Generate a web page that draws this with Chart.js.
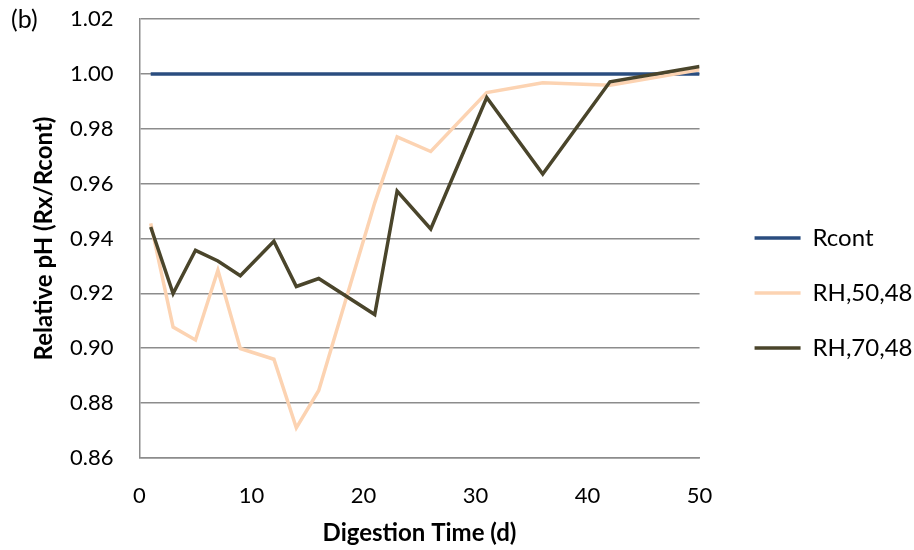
<!DOCTYPE html>
<html>
<head>
<meta charset="utf-8">
<script src="https://cdn.jsdelivr.net/npm/chart.js@4.4.1/dist/chart.umd.min.js"></script>
<style>
  html, body { margin: 0; padding: 0; background: #fff; }
  #wrap { width: 914px; height: 550px; }
</style>
</head>
<body>
<div id="wrap"><canvas id="phChart" width="914" height="550"></canvas></div>
<script>
// digestion days and relative pH for each run
var days = [1, 3, 5, 7, 9, 12, 14, 16, 21, 23, 26, 31, 36, 42, 50];
var rcont = [1.00, 1.00, 1.00, 1.00, 1.00, 1.00, 1.00, 1.00, 1.00, 1.00, 1.00, 1.00, 1.00, 1.00, 1.00];
var rh5048 = [0.9455, 0.9077, 0.9030, 0.9284, 0.8999, 0.8960, 0.8710, 0.8846, 0.9530, 0.9770, 0.9717, 0.9932, 0.9968, 0.9959, 1.0015];
var rh7048 = [0.9442, 0.9199, 0.9357, 0.9318, 0.9264, 0.9390, 0.9225, 0.9254, 0.9123, 0.9573, 0.9435, 0.9914, 0.9635, 0.9971, 1.0027];
var seriesNames = ['Rcont', 'RH,50,48', 'RH,70,48'];

function pts(ys) {
  return days.map(function (d, i) { return { x: d, y: ys[i] }; });
}

var gridGrey = '#8c8c8c';
var fontFam = 'Lato, "Open Sans", sans-serif';

// the left padding is pulled far negative so the right-hand legend gets
// enough width; the y axis then takes that space back through afterFit
var padLeft = -300;
var plotLeft = 139.5;

// "(b)" panel tag in the top left corner
var panelTag = {
  id: 'panelTag',
  afterDraw: function (chart) {
    var c = chart.ctx;
    c.save();
    c.font = '25px ' + fontFam;
    c.fillStyle = '#000';
    c.textBaseline = 'middle';
    c.fillText('(b)', 11, 20);
    c.restore();
  }
};

var ctx = document.getElementById('phChart').getContext('2d');
var chart = new Chart(ctx, {
  type: 'line',
  data: {
    datasets: [{
      label: seriesNames[0],
      data: pts(rcont),
      borderColor: '#2a4d7f',
      backgroundColor: '#2a4d7f',
      yAxisID: 'y',
      order: 3
    }, {
      label: seriesNames[1],
      data: pts(rh5048),
      borderColor: '#fcd3b2',
      backgroundColor: '#fcd3b2',
      yAxisID: 'y',
      order: 2
    }, {
      label: seriesNames[2],
      data: pts(rh7048),
      borderColor: '#4a452b',
      backgroundColor: '#4a452b',
      yAxisID: 'y',
      order: 1
    }]
  },
  plugins: [panelTag],
  options: {
    responsive: false,
    animation: false,
    elements: {
      line: { borderWidth: 3.5, tension: 0 },
      point: { radius: 0 }
    },
    layout: { padding: { left: padLeft, right: -8.5, top: 19, bottom: -17 } },
    plugins: {
      tooltip: { enabled: false },
      legend: {
        position: 'right',
        labels: {
          font: { family: fontFam, size: 24 },
          color: '#000',
          boxWidth: 46,
          boxHeight: 3.5,
          padding: 31,
          sort: function (a, b) { return a.datasetIndex - b.datasetIndex; },
          generateLabels: function (ch) {
            var items = Chart.defaults.plugins.legend.labels.generateLabels(ch);
            items.forEach(function (it) { it.lineWidth = 0; });
            return items;
          }
        }
      }
    },
    scales: {
      x: {
        type: 'linear',
        min: 0,
        max: 50,
        ticks: {
          stepSize: 10,
          color: '#000',
          font: { family: fontFam, size: 22 },
          padding: 25
        },
        grid: { display: false, drawTicks: false },
        border: { color: gridGrey, width: 1.5 },
        title: {
          display: true,
          text: 'Digestion Time (d)',
          color: '#000',
          font: { family: fontFam, size: 24, weight: 'bold' },
          padding: { top: 0, bottom: 19.5 }
        },
        afterFit: function (s) { s.height = 109; }
      },
      y: {
        min: 0.86,
        max: 1.02,
        ticks: {
          stepSize: 0.02,
          color: '#000',
          font: { family: fontFam, size: 22 },
          padding: 26,
          callback: function (v) { return v.toFixed(2); }
        },
        grid: { color: gridGrey, lineWidth: 1.5, drawTicks: false },
        border: { color: gridGrey, width: 1.5 },
        title: {
          display: true,
          text: 'Relative pH (Rx/Rcont)',
          color: '#000',
          font: { family: fontFam, size: 24, weight: 'bold' },
          padding: { top: 30 - padLeft, bottom: 0 }
        },
        afterFit: function (s) {
          s.width = plotLeft - padLeft;
          s.paddingTop = 12;
        }
      },
      // empty strip between the plot and the legend
      gap: {
        type: 'linear',
        position: 'right',
        ticks: { display: false },
        grid: { display: false },
        border: { display: false },
        afterFit: function (s) { s.width = 24; }
      }
    }
  }
});
</script>
</body>
</html>
